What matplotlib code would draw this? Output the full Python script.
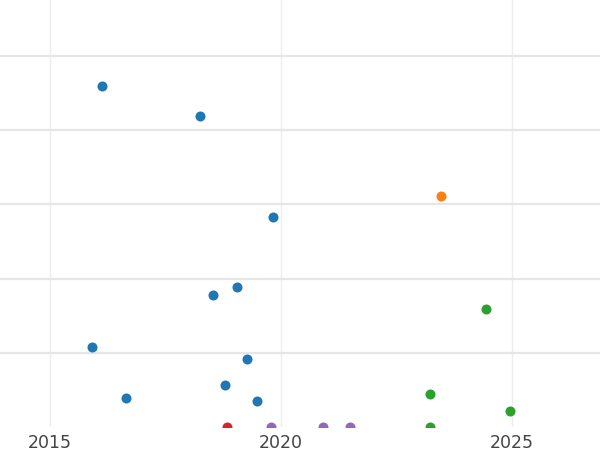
import matplotlib
matplotlib.use("Agg")
import matplotlib.pyplot as plt

# data (x = year, y = value)
blue_x = [2016.13, 2018.25, 2019.83, 2019.05, 2018.53, 2015.91, 2019.26, 2018.79, 2016.65, 2019.48]
blue_y = [92.0, 83.9, 56.6, 37.7, 35.6, 21.6, 18.3, 11.3, 7.8, 7.0]
orange_x = [2023.46]
orange_y = [62.2]
green_x = [2024.44, 2023.23, 2024.96, 2023.23]
green_y = [31.8, 8.9, 4.3, 0.0]
red_x = [2018.83]
red_y = [0.0]
purple_x = [2019.78, 2020.91, 2021.49]
purple_y = [0.0, 0.0, 0.0]

series = [
    (blue_x, blue_y, "#1f77b4"),
    (orange_x, orange_y, "#ff7f0e"),
    (green_x, green_y, "#2ca02c"),
    (red_x, red_y, "#d62728"),
    (purple_x, purple_y, "#9467bd"),
]

fig = plt.figure(figsize=(6, 4.5), dpi=100)
ax = fig.add_axes([0, 23 / 450, 1, 427 / 450])

for xs, ys, c in series:
    ax.scatter(xs, ys, s=52, color=c, linewidths=0, zorder=3)

ax.set_xlim(2013.92, 2026.9)
ax.set_ylim(0, 115.1)
ax.set_xticks([2015, 2020, 2025])
ax.set_yticks([20, 40, 60, 80, 100])
ax.set_yticklabels([])

ax.grid(axis="x", color="#eeeeee", linewidth=1)
ax.grid(axis="y", color="#e6e6e6", linewidth=1.6)
ax.set_axisbelow(True)
for sp in ax.spines.values():
    sp.set_visible(False)
ax.tick_params(length=0, labelsize=12.5, labelcolor="#444444", pad=5)

fig.savefig("out.png", dpi=100)
